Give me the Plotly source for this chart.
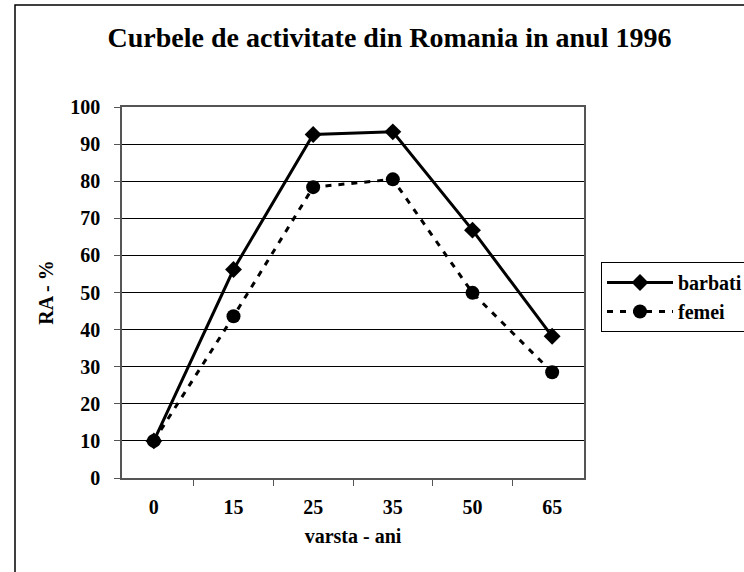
import plotly.graph_objects as go

ages = ["0", "15", "25", "35", "50", "65"]
barbati = [10, 56.2, 92.6, 93.3, 66.8, 38.2]
femei = [10, 43.6, 78.4, 80.5, 49.9, 28.5]
y_ticks = [0, 10, 20, 30, 40, 50, 60, 70, 80, 90, 100]

FONT = "Liberation Serif"
W, H = 744, 572
L, R, T, B = 122, 160, 107, 94
PW, PH = W - L - R, H - T - B

fig = go.Figure()
fig.add_trace(go.Scatter(
    x=ages, y=barbati, name="barbati", mode="lines+markers",
    line=dict(color="black", width=3),
    marker=dict(symbol="diamond", size=13, color="black"),
))
fig.add_trace(go.Scatter(
    x=ages, y=femei, name="femei", mode="lines+markers",
    line=dict(color="black", width=3, dash="6px,7px"),
    marker=dict(symbol="circle", size=14, color="black"),
))

fig.update_layout(
    width=W, height=H,
    margin=dict(l=L, r=R, t=T, b=B, autoexpand=False),
    paper_bgcolor="white", plot_bgcolor="white",
    font=dict(family=FONT, color="black", weight="bold"),
    title=dict(text="Curbele de activitate din Romania in anul 1996",
               x=(389.5 - L) / PW, xref="paper", xanchor="center",
               y=1 - 27 / H, yanchor="top",
               font=dict(size=28, family=FONT, weight="bold")),
    showlegend=True,
    legend=dict(x=(601 - L) / PW, xanchor="left", y=(478 - 262) / PH, yanchor="top",
                bordercolor="black", borderwidth=1,
                font=dict(size=20, family=FONT, weight="bold"),
                tracegroupgap=0, itemwidth=66),
    xaxis=dict(
        type="category", categoryorder="array", categoryarray=ages,
        tickson="boundaries", ticks="outside", ticklen=6, tickcolor="#555",
        tickfont=dict(size=20, family=FONT, weight="bold"), ticklabelstandoff=10,
        showline=True, linecolor="#555", linewidth=1.5, mirror=True,
        showgrid=False,
        title=dict(text="varsta - ani", font=dict(size=20, family=FONT, weight="bold"), standoff=12),
    ),
    yaxis=dict(
        range=[0, 100], tickvals=y_ticks,
        ticks="outside", ticklen=6, tickcolor="#555",
        tickfont=dict(size=20, family=FONT, weight="bold"), ticklabelstandoff=10,
        showline=True, linecolor="#555", linewidth=1.5, mirror=True,
        showgrid=True, gridcolor="black", gridwidth=1,
        zeroline=False,
        title=dict(text="RA - %", font=dict(size=20, family=FONT, weight="bold"), standoff=11),
    ),
    shapes=[dict(type="rect", xref="paper", yref="paper",
                 x0=(15 - L) / PW, x1=1.8, y0=-0.6, y1=(478 - 5) / PH,
                 line=dict(color="black", width=1.5), fillcolor="rgba(0,0,0,0)",
                 layer="below")],
)

fig.write_html("out.html", config={"displayModeBar": False},
               post_script="document.body.style.margin='0px';")
